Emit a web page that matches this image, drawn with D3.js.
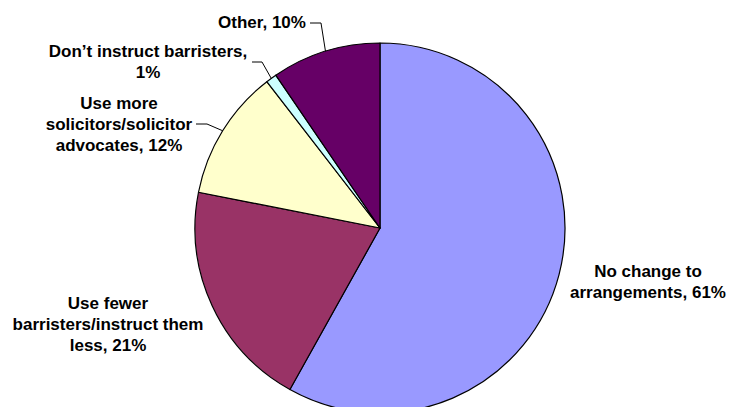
<!DOCTYPE html>
<html>
<head>
<meta charset="utf-8">
<script src="https://cdn.jsdelivr.net/npm/d3@7/dist/d3.min.js"></script>
<style>
  html, body { margin: 0; padding: 0; background: #ffffff; }
  svg { display: block; }
  .lbl { font-family: "Liberation Sans", Arial, sans-serif; font-weight: bold; font-size: 17px; fill: #000; }
</style>
</head>
<body>
<svg id="chart" width="729" height="407"></svg>
<script>
// Responses, in clockwise order from 12 o'clock
const categories = [
  "No change to arrangements",
  "Use fewer barristers/instruct them less",
  "Use more solicitors/solicitor advocates",
  "Don\u2019t instruct barristers",
  "Other"
];
const values = [61, 21, 12, 1, 10];
const colors = ["#9999FF", "#993366", "#FFFFCC", "#CCFFFF", "#660066"];

// Label text, one array entry per line
const labelLines = [
  ["No change to", "arrangements, 61%"],
  ["Use fewer", "barristers/instruct them", "less, 21%"],
  ["Use more", "solicitors/solicitor", "advocates, 12%"],
  ["Don\u2019t instruct barristers,", "1%"],
  ["Other, 10%"]
];

// Layout
const W = 729, H = 407;
const cx = 380, cy = 228, R = 185;
const lineH = 21;
// label block centre x and first-baseline y, plus optional leader elbow
const labelLayout = [
  { x: 648, y: 277, leader: null },
  { x: 108, y: 309, leader: null },
  { x: 119, y: 109, leader: { x0: 196, y0: 124, x1: 207 } },
  { x: 148, y: 57,  leader: { x0: 252, y0: 62,  x1: 262 } },
  { x: 262, y: 28,  leader: { x0: 310, y0: 23,  x1: 321 } }
];

const svg = d3.select("#chart");
const g = svg.append("g").attr("transform", `translate(${cx},${cy})`);

const pie = d3.pie().sort(null).value(d => d)(values);
const arc = d3.arc().innerRadius(0).outerRadius(R);

g.selectAll("path.slice")
  .data(pie)
  .join("path")
  .attr("class", "slice")
  .attr("d", arc)
  .attr("fill", (d, i) => colors[i])
  .attr("stroke", "#000")
  .attr("stroke-width", 1.2)
  .attr("stroke-linejoin", "round");

// Leader lines: from label elbow to the slice's mid-angle on the rim
pie.forEach((d, i) => {
  const L = labelLayout[i].leader;
  if (!L) return;
  const a = (d.startAngle + d.endAngle) / 2;
  const ex = cx + Math.sin(a) * R;
  const ey = cy - Math.cos(a) * R;
  svg.append("polyline")
    .attr("points", `${L.x0},${L.y0} ${L.x1},${L.y0} ${ex},${ey}`)
    .attr("fill", "none")
    .attr("stroke", "#000")
    .attr("stroke-width", 1);
});

// Labels
labelLines.forEach((lines, i) => {
  const p = labelLayout[i];
  const t = svg.append("text")
    .attr("class", "lbl")
    .attr("text-anchor", "middle");
  lines.forEach((s, k) => {
    t.append("tspan").attr("x", p.x).attr("y", p.y + k * lineH).text(s);
  });
});
</script>
</body>
</html>
